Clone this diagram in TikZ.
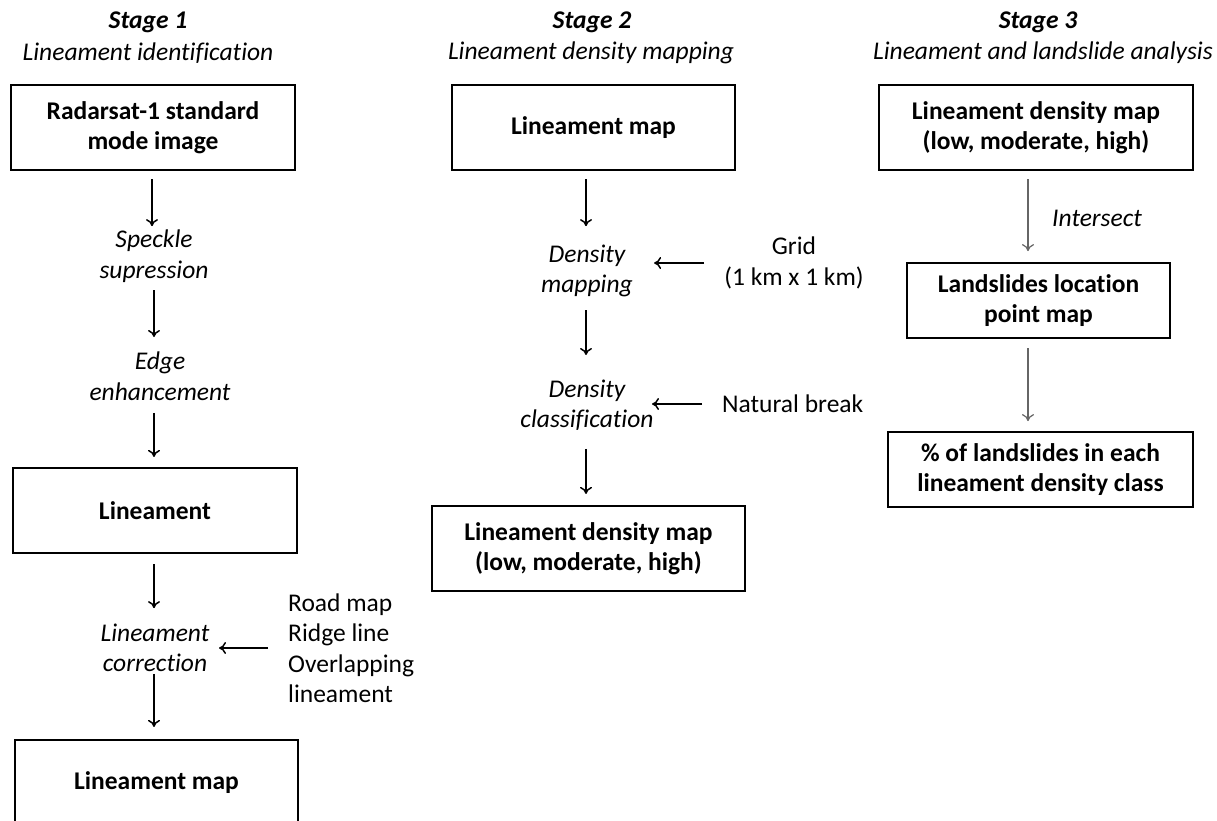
\documentclass[tikz,border=0pt]{standalone}
\usepackage{fontspec}
\setmainfont[Ligatures=NoCommon]{Carlito}
\usetikzlibrary{calc,arrows.meta}
\begin{document}
\begin{tikzpicture}[x=1pt,y=-1pt,
  every node/.style={font=\fontsize{25.5}{30.5}\selectfont, inner sep=0pt, align=center},
  boxnode/.style={draw=black, line width=2.2pt, font=\fontsize{25.5}{30.5}\selectfont\bfseries},
  stagehead/.style={font=\fontsize{25.5}{30.5}\selectfont\bfseries\itshape},
  stepnote/.style={font=\fontsize{25.5}{30.5}\selectfont\itshape},
  arr/.style={-{To[length=7pt,width=12pt]}, line width=1.5pt, black},
  grayarr/.style={-{To[length=7pt,width=12pt]}, line width=1.2pt, black!60}]
\clip (0,0) rectangle (1217,821);
\fill[white] (0,0) rectangle (1217,821);

% Stage 1
\node[stagehead] (s1) at (148,22) {Stage 1};
\node[stepnote] (s1t) at (148,53) {Lineament identification};
\node[boxnode, minimum width=284, minimum height=85] (a1) at (153,127.5) {Radarsat-1 standard\\mode image};
\node[stepnote] (a2) at (154,256) {Speckle\\supression};
\node[stepnote] (a3) at (160,376) {Edge\\enhancement};
\node[boxnode, minimum width=284, minimum height=85] (a4) at (155,510.5) {Lineament};
\node[stepnote] (a5) at (155,648) {Lineament\\correction};
\node[anchor=west, align=left] (a5in) at (288,648) {Road map\\Ridge line\\Overlapping\\lineament};
\node[boxnode, minimum width=283, minimum height=85] (a6) at (156.5,782.5) {Lineament map};

\draw[arr] ($(a1.south)+(-1,8)$) -- ($(a1.south)+(-1,55)$);
\draw[arr] ($(a2.center)+(0,34)$) -- ($(a2.center)+(0,81)$);
\draw[arr] ($(a4.north)+(-1,-54)$) -- ($(a4.north)+(-1,-10)$);
\draw[arr] ($(a4.south)+(-1,10)$) -- ($(a4.south)+(-1,54)$);
\draw[arr] ($(a6.north)+(-2.5,-65)$) -- ($(a6.north)+(-2.5,-12)$);
\draw[arr] ($(a5in.west)+(-20,0)$) -- ($(a5in.west)+(-69,0)$);

% Stage 2
\node[stagehead] (s2) at (592,22) {Stage 2};
\node[stepnote] (s2t) at (591,53) {Lineament density mapping};
\node[boxnode, minimum width=283, minimum height=85] (b1) at (593.5,127.5) {Lineament map};
\node[stepnote] (b2) at (587,271) {Density\\mapping};
\node (b2in) at (794,263) {Grid\\(1 km x 1 km)};
\node[stepnote] (b3) at (587,405) {Density\\classification};
\node[anchor=west] (b3in) at (722,404) {Natural break};
\node[boxnode, minimum width=313, minimum height=85] (b4) at (588.5,548.5) {Lineament density map\\(low, moderate, high)};

\draw[arr] ($(b1.south)+(-7.5,8)$) -- ($(b1.south)+(-7.5,55)$);
\draw[arr] ($(b2.center)+(-1,39)$) -- ($(b2.center)+(-1,84)$);
\draw[arr] ($(b4.north)+(-2.5,-56)$) -- ($(b4.north)+(-2.5,-11)$);
\draw[arr] ($(b2in.west)+(-20,0)$) -- ($(b2in.west)+(-70,0)$);
\draw[arr] ($(b3in.west)+(-20,0)$) -- ($(b3in.west)+(-70,0)$);

% Stage 3
\node[stagehead] (s3) at (1038,22) {Stage 3};
\node[stepnote] (s3t) at (1043,53) {Lineament and landslide analysis};
\node[boxnode, minimum width=314, minimum height=85] (c1) at (1036,127.5) {Lineament density map\\(low, moderate, high)};
\node[boxnode, minimum width=263, minimum height=75] (c2) at (1038.5,300.5) {Landslides location\\point map};
\node[boxnode, minimum width=305, minimum height=75] (c3) at (1040.5,469.5) {\% of landslides in each\\lineament density class};
\node[stepnote, anchor=west] (c12) at (1052,218) {Intersect};

\draw[grayarr] ($(c1.south)+(-8,8)$) -- ($(c1.south)+(-8,80)$);
\draw[grayarr] ($(c2.south)+(-10.5,9)$) -- ($(c2.south)+(-10.5,82)$);
\end{tikzpicture}
\end{document}
